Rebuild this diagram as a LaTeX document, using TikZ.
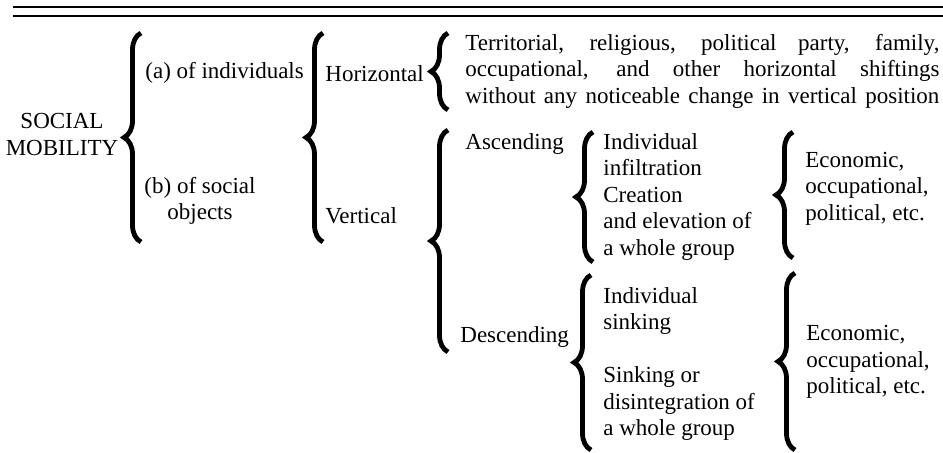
\documentclass[tikz,border=0pt]{standalone}
\usepackage{fontspec}
\setmainfont{Liberation Serif}
\usetikzlibrary{decorations.pathreplacing}

\begin{document}
\begin{tikzpicture}[x=0.5pt,y=-0.5pt,
  every node/.style={inner sep=0pt, font=\fontsize{11.5}{13.25}\selectfont},
  lbl/.style={anchor=west, align=left},
  brc/.style={decorate, decoration={brace, amplitude=8.5pt}, line width=2.4pt}]
\useasboundingbox (0,0) rectangle (943,453);
\draw [line width=1.1pt] (13,7) -- (943,7);
\draw [line width=0.6pt] (13,16) -- (943,16);
\node [align=center] (soc) at (62,134.5) {SOCIAL\\MOBILITY};
\node [lbl] (ind) at (145,73) {(a) of individuals};
\node [align=center] (obj) at (200,201) {(b) of social\\objects};
\node [lbl] (hor) at (325,74) {Horizontal};
\node [lbl] (ver) at (325,216) {Vertical};
\node [lbl] (shift) at (465,71) {\makebox[237pt][s]{Territorial, religious, political party, family,}\\
  \makebox[237pt][s]{occupational, and other horizontal shiftings}\\
  \makebox[237pt][s]{without any noticeable change in vertical position}};
\node [lbl] (asc) at (465,144) {Ascending};
\node [lbl] (des) at (460,337) {Descending};
\node [lbl] (ascl) at (603,197) {Individual\\infiltration\\Creation\\and elevation of\\a whole group};
\node [lbl] (asce) at (805,188.5) {Economic,\\occupational,\\political, etc.};
\node [lbl] (desl) at (603,364) {Individual\\sinking\\[13.25pt]Sinking or\\disintegration of\\a whole group};
\node [lbl] (dese) at (806,362) {Economic,\\occupational,\\political, etc.};
\foreach \n/\x/\t/\b in {soc/141/33/242, kind/323/33/242, hor/448/33/110, ver/448/130/352,
    asc/593/132/262, ascd/793/132/258, des/591/275/450, desd/795/273/450}{
  \coordinate (\n top) at (\x,\t);
  \coordinate (\n bot) at (\x,\b);
  \draw [brc] (\n bot) -- (\n top);
}
\end{tikzpicture}
\end{document}
